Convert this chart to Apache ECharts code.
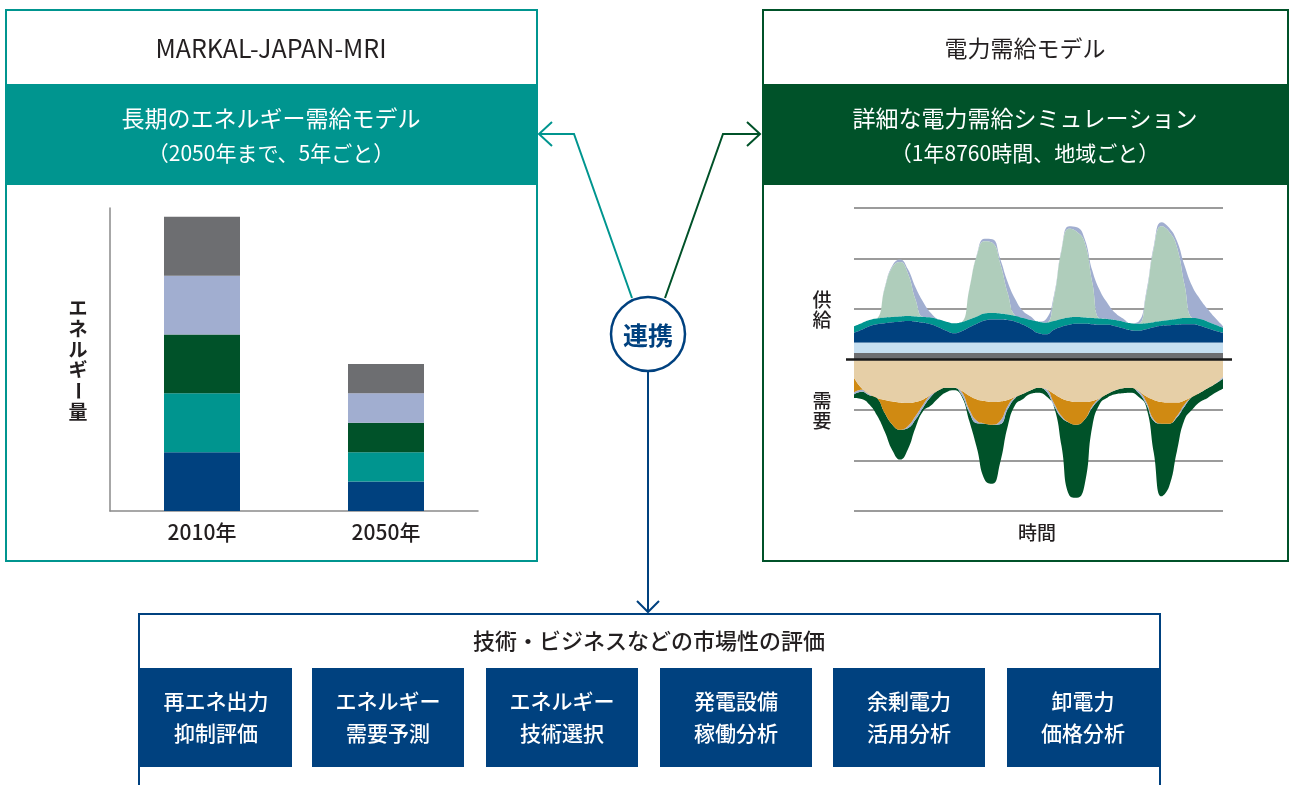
<!DOCTYPE html>
<html><head><meta charset="utf-8">
<script src="https://cdn.jsdelivr.net/npm/echarts@6/dist/echarts.min.js"></script>
<style>html,body{margin:0;padding:0;background:#fff}#c{width:1293px;height:785px}</style>
</head><body><div id="c"></div>
<script>
// ---------- left chart: long-term energy (stacked bars) ----------
const barCategories = ['2010年', '2050年'];
const barNavy     = [20, 10];
const barTeal     = [20, 10];
const barGreen    = [20, 10];
const barLavender = [20, 10];
const barGray     = [20, 10];

// ---------- right chart: hourly supply / demand (4 days) ----------
const hours = [0,2,4,6,8,10,12,14,16,18,20,22,24,26,28,30,32,34,36,38,40,42,44,46,48,
               50,52,54,56,58,60,62,64,66,68,70,72,74,76,78,80,82,84,86,88,90,92,94,96];
// supply (stacked upward)
const supplyGray   = [0.13,0.13,0.13,0.13,0.13,0.13,0.13,0.13,0.13,0.13,0.13,0.13,0.13,0.13,0.13,0.13,0.13,0.13,0.13,0.13,0.13,0.13,0.13,0.13,0.13,0.13,0.13,0.13,0.13,0.13,0.13,0.13,0.13,0.13,0.13,0.13,0.13,0.13,0.13,0.13,0.13,0.13,0.13,0.13,0.13,0.13,0.13,0.13,0.13];
const supplyLtBlue = [0.2,0.2,0.2,0.2,0.2,0.2,0.2,0.2,0.2,0.2,0.2,0.2,0.2,0.2,0.2,0.2,0.2,0.2,0.2,0.2,0.2,0.2,0.2,0.2,0.2,0.2,0.2,0.2,0.2,0.2,0.2,0.2,0.2,0.2,0.2,0.2,0.2,0.2,0.2,0.2,0.2,0.2,0.2,0.2,0.2,0.2,0.2,0.2,0.2];
const supplyNavy   = [0.20,0.26,0.33,0.37,0.39,0.41,0.42,0.43,0.42,0.40,0.37,0.31,0.24,0.19,0.23,0.31,0.38,0.44,0.46,0.46,0.45,0.42,0.36,0.28,0.19,0.17,0.26,0.32,0.36,0.38,0.38,0.37,0.36,0.36,0.33,0.29,0.25,0.24,0.27,0.31,0.34,0.35,0.36,0.37,0.37,0.34,0.29,0.24,0.20];
const supplyTeal   = [0.13,0.13,0.12,0.11,0.11,0.10,0.10,0.10,0.10,0.11,0.13,0.15,0.18,0.20,0.18,0.15,0.14,0.14,0.13,0.12,0.11,0.11,0.13,0.17,0.23,0.23,0.17,0.15,0.14,0.13,0.12,0.12,0.12,0.11,0.12,0.13,0.14,0.14,0.12,0.10,0.09,0.10,0.11,0.12,0.12,0.13,0.13,0.12,0.10];
const supplySolar  = [0,0,0,0,0.58,0.99,1.08,0.85,0.34,0,0,0,0,0,0,0.60,1.22,1.43,1.39,1.00,0.42,0,0,0,0,0,0.45,1.36,1.76,1.69,1.49,0.70,0,0,0,0,0,0,0.55,1.46,1.88,1.75,1.43,0.66,0,0,0,0,0];
const supplyLav    = [0,0,0,0,0.02,0.03,0.05,0.08,0.24,0.30,0.09,0,0,0,0,0.01,0.02,0.05,0.07,0.09,0.22,0.33,0.14,0.07,0,0.07,0.05,0.03,0.05,0.09,0.07,0.24,0.55,0.31,0.14,0.06,0,0.04,0.05,0.05,0.08,0.08,0.12,0.38,0.63,0.40,0.25,0.13,0.03];
// demand (stacked downward)
const demandBeige  = [-0.36,-0.57,-0.69,-0.76,-0.80,-0.83,-0.85,-0.86,-0.84,-0.79,-0.70,-0.61,-0.56,-0.56,-0.62,-0.72,-0.79,-0.82,-0.84,-0.83,-0.80,-0.74,-0.68,-0.61,-0.56,-0.59,-0.68,-0.77,-0.82,-0.84,-0.84,-0.82,-0.76,-0.68,-0.61,-0.57,-0.56,-0.62,-0.73,-0.80,-0.84,-0.85,-0.85,-0.81,-0.74,-0.66,-0.57,-0.48,-0.34];
const demandOrange = [-0.29,-0.03,0,0,-0.26,-0.46,-0.54,-0.46,-0.28,-0.10,0,0,0,0,-0.02,-0.27,-0.43,-0.45,-0.45,-0.39,-0.12,0,0,0,0,0,-0.18,-0.35,-0.43,-0.45,-0.35,-0.10,0,0,0,0,0,0,-0.10,-0.39,-0.43,-0.42,-0.27,-0.08,0,0,0,0,0];
const demandLav    = [-0.04,-0.04,-0.02,0,0,0,0,-0.04,-0.07,-0.06,-0.04,0,0,0,-0.06,-0.06,-0.04,0,0,-0.06,-0.06,-0.02,0,0,0,-0.04,-0.05,-0.03,0,0,0,-0.03,-0.02,0,0,0,0,-0.04,-0.05,-0.03,0,0,-0.03,-0.04,0,0,0,0,-0.04];
const demandGreen  = [-0.07,-0.14,-0.18,-0.35,-0.37,-0.51,-0.59,-0.42,-0.16,-0.07,-0.17,-0.15,-0.09,-0.05,-0.03,-0.17,-0.50,-1.11,-1.17,-0.77,-0.34,-0.13,-0.10,-0.07,-0.10,-0.10,-0.02,-0.57,-1.44,-1.45,-1.29,-0.37,-0.09,-0.07,-0.08,-0.10,-0.10,-0.08,-0.05,-0.63,-1.44,-1.24,-0.67,-0.26,-0.25,-0.18,-0.19,-0.18,-0.20];

// ---------- diagram texts ----------
const evalLabels = [['再エネ出力','抑制評価'],['エネルギー','需要予測'],['エネルギー','技術選択'],['発電設備','稼働分析'],['余剰電力','活用分析'],['卸電力','価格分析']];

const TEXT = '#231f20', TEAL = '#00958f', DKGREEN = '#005229', NAVY = '#00417f';
const LAV = '#a1aed0', GRAY = '#6d6e71', LTBLUE = '#c6dff1', LTGREEN = '#afcdbb';
const BEIGE = '#e6cfa7', ORANGE = '#d08a12';
const FF = '"Noto Sans CJK JP","Noto Sans",sans-serif';

const chart = echarts.init(document.getElementById('c'), null, {renderer: 'canvas'});

function bar(name, data, color) {
  return {type: 'bar', name, data, stack: 'e', barWidth: 76, xAxisIndex: 0, yAxisIndex: 0,
          itemStyle: {color}, silent: true, z: 3};
}
function area(name, data, color, stack, z) {
  return {type: 'line', name, data, stack, stackStrategy: 'all', xAxisIndex: 1, yAxisIndex: 1,
          smooth: 0.5, symbol: 'none', showSymbol: false, lineStyle: {width: 0},
          areaStyle: {color, opacity: 1}, z, silent: true};
}

chart.setOption({
  animation: false,
  grid: [
    {left: 110, right: 815, top: 208, bottom: 274},
    {left: 854, right: 70, top: 208, bottom: 274}
  ],
  xAxis: [
    {type: 'category', gridIndex: 0, data: barCategories,
     axisLine: {show: true, lineStyle: {color: '#8a8a8a', width: 1.5}},
     axisTick: {show: false},
     axisLabel: {color: TEXT, fontSize: 21, fontWeight: 500, fontFamily: FF, margin: 11}},
    {type: 'category', gridIndex: 1, data: hours, boundaryGap: false, show: false}
  ],
  yAxis: [
    {type: 'value', gridIndex: 0, min: 0, max: 103,
     axisLine: {show: true, lineStyle: {color: '#8a8a8a', width: 1.5}},
     axisTick: {show: false}, axisLabel: {show: false}, splitLine: {show: false}},
    {type: 'value', gridIndex: 1, min: -3, max: 3, interval: 1,
     axisLine: {show: false}, axisTick: {show: false}, axisLabel: {show: false},
     splitLine: {show: true, lineStyle: {color: '#7a7a7a', width: 1.5}}}
  ],
  series: [
    bar('navy', barNavy, NAVY),
    bar('teal', barTeal, TEAL),
    bar('green', barGreen, DKGREEN),
    bar('lavender', barLavender, LAV),
    bar('gray', barGray, GRAY),
    area('s-gray', supplyGray, GRAY, 'supply', 20),
    area('s-ltblue', supplyLtBlue, LTBLUE, 'supply', 19),
    area('s-navy', supplyNavy, NAVY, 'supply', 18),
    area('s-teal', supplyTeal, TEAL, 'supply', 17),
    area('s-solar', supplySolar, LTGREEN, 'supply', 16),
    area('s-lav', supplyLav, LAV, 'supply', 15),
    area('d-beige', demandBeige, BEIGE, 'demand', 20),
    area('d-orange', demandOrange, ORANGE, 'demand', 19),
    area('d-lav', demandLav, LAV, 'demand', 18),
    area('d-green', demandGreen, DKGREEN, 'demand', 17)
  ]
});

function T(text, x, y, size, fill, weight, extra) {
  return Object.assign({type: 'text', x, y, z: 30,
    style: {text, x: 0, y: 0, fill, font: (weight || 'normal') + ' ' + size + 'px ' + FF,
            align: 'center', verticalAlign: 'middle', textAlign: 'center', textVerticalAlign: 'middle'}}, extra || {});
}
function R(x, y, w, h, fill, stroke, lw) {
  return {type: 'rect', z: 1, shape: {x, y, width: w, height: h},
          style: {fill: fill || 'none', stroke: stroke || null, lineWidth: lw || 0}};
}
function P(points, stroke, lw) {
  return {type: 'polyline', z: 25, shape: {points}, style: {stroke, lineWidth: lw, fill: null, lineJoin: 'miter'}};
}

const g = [];
// left box
g.push(R(6, 10, 531, 551, 'none', TEAL, 2));
g.push(R(6, 84, 531, 101, TEAL));
g.push(T('MARKAL-JAPAN-MRI', 271, 48, 25, TEXT));
g.push(T('長期のエネルギー需給モデル', 271, 118, 23, '#fff'));
g.push(T('（2050年まで、5年ごと）', 271, 153, 21, '#fff'));
// right box
g.push(R(763, 10, 525, 551, 'none', DKGREEN, 2));
g.push(R(763, 84, 525, 101, DKGREEN));
g.push(T('電力需給モデル', 1025, 48, 23, TEXT));
g.push(T('詳細な電力需給シミュレーション', 1025, 118, 23, '#fff'));
g.push(T('（1年8760時間、地域ごと）', 1025, 153, 21, '#fff'));
// bottom box
g.push(R(139, 614, 1021, 220, 'none', NAVY, 2));
g.push(T('技術・ビジネスなどの市場性の評価', 649, 641, 22, TEXT, '500'));
const bx = [140, 312, 486, 660, 833, 1007];
evalLabels.forEach((lab, i) => {
  g.push(R(bx[i], 668, 152, 99, NAVY));
  g.push(T(lab[0], bx[i] + 76, 701, 21, '#fff', '500'));
  g.push(T(lab[1], bx[i] + 76, 733, 21, '#fff', '500'));
});
// arrows & link circle
g.push(P([[632, 298], [574, 134], [539, 134]], TEAL, 2));
g.push(P([[552, 122], [539, 134], [552, 146]], TEAL, 2));
g.push(P([[665, 298], [723, 134], [760, 134]], DKGREEN, 2));
g.push(P([[747, 122], [760, 134], [747, 146]], DKGREEN, 2));
g.push(P([[648, 372], [648, 612]], NAVY, 2));
g.push(P([[637, 601], [648, 612], [659, 601]], NAVY, 2));
g.push({type: 'circle', z: 26, shape: {cx: 648, cy: 334, r: 37}, style: {fill: '#fff', stroke: NAVY, lineWidth: 2.5}});
g.push(T('連携', 648, 335, 25, NAVY, 'bold'));
// left chart y label (vertical)
const yl = ['エ', 'ネ', 'ル', 'ギ', 'ー', '量'];
yl.forEach((ch, i) => {
  const el = T(ch, 78, 308 + i * 20.7, 19, TEXT, 'bold');
  if (ch === 'ー') el.rotation = -Math.PI / 2;
  g.push(el);
});
// right chart labels
g.push(T('供', 822, 300, 19, TEXT, '500'));
g.push(T('給', 822, 320, 19, TEXT, '500'));
g.push(T('需', 822, 401, 19, TEXT, '500'));
g.push(T('要', 822, 421, 19, TEXT, '500'));
g.push(T('時間', 1037, 533, 19, TEXT, '500'));
// zero line of supply/demand chart, extended slightly past the plot
const p0 = chart.convertToPixel({xAxisIndex: 1, yAxisIndex: 1}, [0, 0]);
const p1 = chart.convertToPixel({xAxisIndex: 1, yAxisIndex: 1}, [hours.length - 1, 0]);
g.push({type: 'line', z: 40, shape: {x1: p0[0] - 8, y1: p0[1], x2: p1[0] + 9, y2: p1[1]},
        style: {stroke: '#1a1a1a', lineWidth: 2.5}});

chart.setOption({graphic: g});
</script>
</body></html>
